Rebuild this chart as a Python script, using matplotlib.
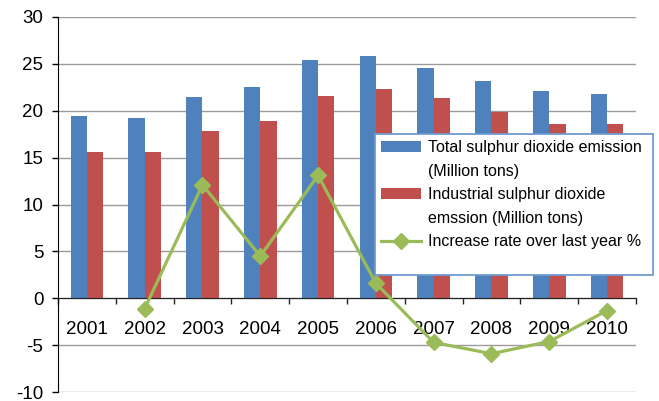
import numpy as np
import matplotlib.pyplot as plt
from matplotlib.patches import Rectangle
from matplotlib.lines import Line2D

plt.rcParams['font.family'] = ['Liberation Sans', 'DejaVu Sans']
plt.rcParams['axes.unicode_minus'] = False

years = ['2001', '2002', '2003', '2004', '2005', '2006', '2007', '2008', '2009', '2010']
total_so2 = [19.4, 19.2, 21.5, 22.5, 25.4, 25.8, 24.6, 23.2, 22.1, 21.8]
industrial_so2 = [15.6, 15.6, 17.8, 18.9, 21.6, 22.3, 21.4, 19.9, 18.6, 18.6]
increase_rate = [np.nan, -1.1, 12.1, 4.5, 13.1, 1.6, -4.7, -5.9, -4.6, -1.3]

BLUE = '#4F81BD'
RED = '#C0504D'
GREEN = '#9BBB59'

fig = plt.figure(figsize=(6.59, 4.01), dpi=100)
ax = fig.add_axes([0.088, 0.022, 0.877, 0.936])

x = np.arange(len(years))
w = 0.283
b1 = ax.bar(x - w / 2, total_so2, w, color=BLUE, zorder=2)
b2 = ax.bar(x + w / 2, industrial_so2, w, color=RED, zorder=2)
ln, = ax.plot(x, increase_rate, color=GREEN, lw=2.3, marker='D', ms=8, zorder=3)

ax.set_xlim(-0.5, len(years) - 0.5)
ax.set_ylim(-10, 30)
ax.set_yticks(range(-10, 31, 5))
ax.yaxis.grid(True, color='#9a9a9a', lw=1, zorder=0)

# category labels centred, tick marks on the category boundaries
ax.set_xticks(x)
ax.set_xticklabels(years)
ax.set_xticks(np.arange(-0.5, len(years)), minor=True)
ax.tick_params(axis='x', which='major', length=0, pad=16, labelsize=13.5)
ax.tick_params(axis='x', which='minor', length=4.5, width=1, direction='out', color='#222222')
ax.tick_params(axis='y', length=4.5, width=1, pad=6, labelsize=13.5)

ax.spines['bottom'].set_position(('data', 0))
ax.spines['bottom'].set_color('#222222')
ax.spines['top'].set_visible(False)
ax.spines['right'].set_visible(False)

# legend box, with wrapped labels kept on their own rows
box = Rectangle((0.569, 0.314), 0.422, 0.352, transform=fig.transFigure, clip_on=False,
                facecolor='white', edgecolor='#6E9BD0', lw=1.3, zorder=4)
ax.add_patch(box)
blank = Line2D([], [], color='none')
handles = [b1, blank, b2, blank, ln]
labels = ['Total sulphur dioxide emission', '(Million tons)',
          'Industrial sulphur dioxide', 'emssion (Million tons)',
          'Increase rate over last year %']
leg = ax.legend(handles, labels, loc='upper left', bbox_to_anchor=(0.569, 0.666),
                bbox_transform=fig.transFigure, borderaxespad=0, frameon=False,
                fontsize=11.5, handlelength=2.5, handleheight=0.65, labelspacing=0.53,
                borderpad=0.4, handletextpad=0.45)
leg.set_zorder(5)

fig.savefig('out.png', dpi=100)
